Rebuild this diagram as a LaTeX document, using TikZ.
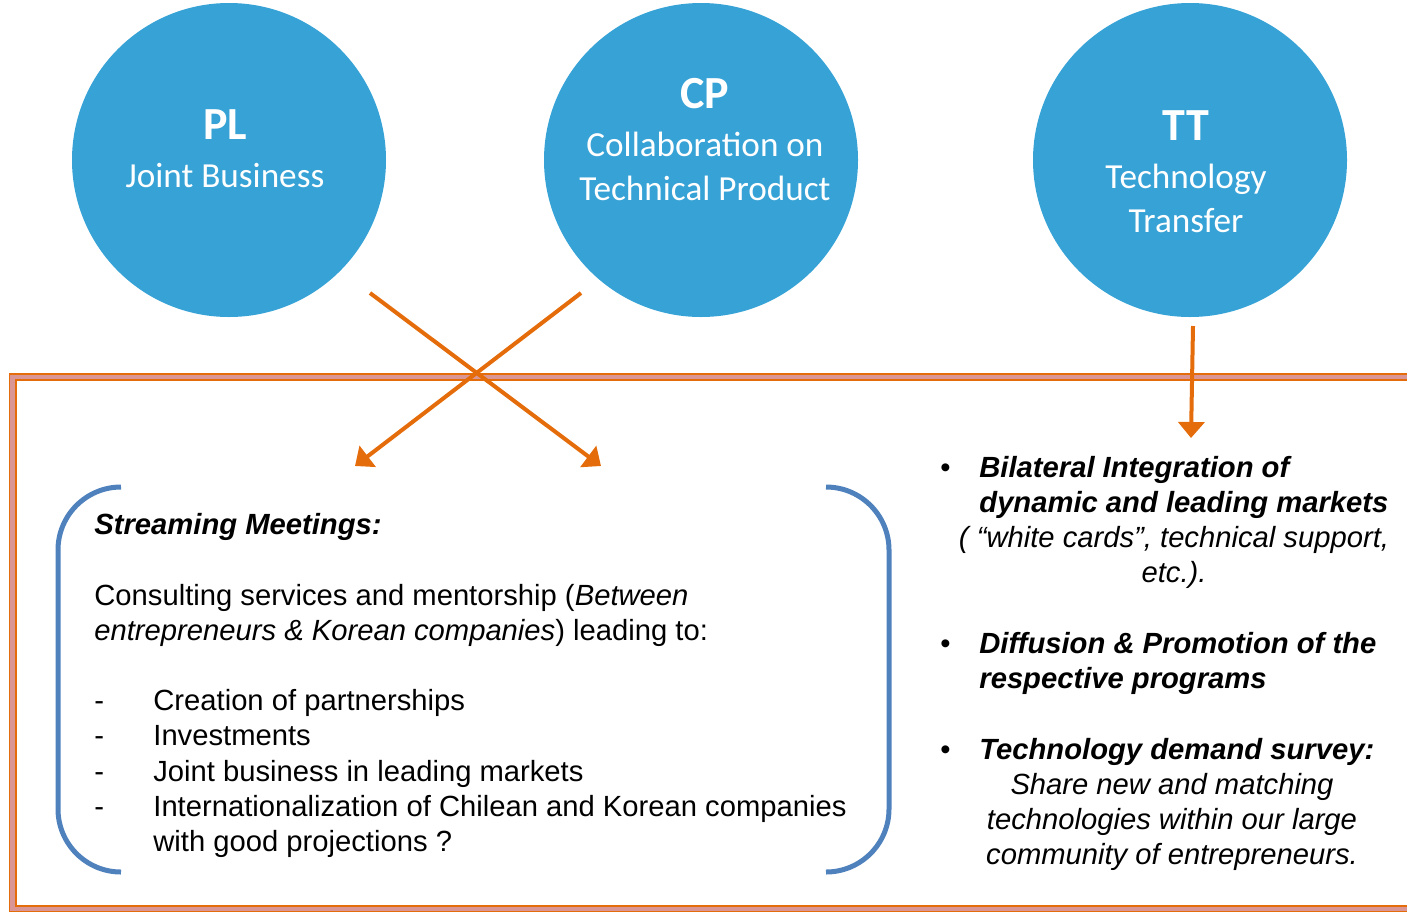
\documentclass[tikz,border=0pt]{standalone}
\usepackage{fontspec}
\setmainfont{Liberation Sans}
\newfontfamily\carlito{Carlito}
\usetikzlibrary{arrows.meta}
\definecolor{hubblue}{RGB}{54,162,214}
\definecolor{arroworange}{RGB}{228,108,10}
\definecolor{framepink}{RGB}{217,150,148}
\definecolor{braceblue}{RGB}{79,129,189}

\begin{document}
\begin{tikzpicture}[x=0.5pt, y=-0.5pt,
  hub/.style={circle, fill=hubblue, minimum size=157pt, inner sep=0pt},
  hubtext/.style={text=white, align=center, anchor=base, inner sep=0pt, font=\carlito\fontsize{17.6}{22}\selectfont},
  flow/.style={draw=arroworange, line width=2pt, -{Triangle[width=13pt,length=8pt]}},
  brace/.style={draw=braceblue, line width=2.5pt, rounded corners=31.5pt},
  body/.style={align=left, anchor=base west, inner sep=0pt, font=\fontsize{14.6}{17.6}\selectfont},
  note/.style={align=center, anchor=base, inner sep=0pt, font=\itshape\fontsize{14.6}{17.6}\selectfont}]
\useasboundingbox (0,0) rectangle (1407,911);

% frame
\draw[draw=arroworange, line width=0.9pt, double=framepink, double distance=2.2pt] (12.5,377) rectangle (1440,909);

% circles
\node[hub] (PL) at (229,160) {};
\node[hub] (CP) at (701,160) {};
\node[hub] (TT) at (1190,160) {};
\node[hubtext] (PLt) at (225,187) {{\fontsize{23}{26}\selectfont\bfseries PL}\\[2pt] Joint Business};
\node[hubtext] (CPt) at (705,200) {{\fontsize{23}{26}\selectfont\bfseries CP}\\[2pt] Collaboration on\\ Technical Product};
\node[hubtext] (TTt) at (1186,232) {{\fontsize{23}{26}\selectfont\bfseries TT}\\[2pt] Technology\\ Transfer};

% arrows
\coordinate (PLs) at (370,293);
\coordinate (CPs) at (581,293);
\coordinate (TTs) at (1193,326);
\coordinate (SMl) at (355,466);
\coordinate (SMr) at (601,466);
\coordinate (BIt) at (1191,438);
\draw[flow] (PLs) -- (SMr);
\draw[flow] (CPs) -- (SMl);
\draw[flow] (TTs) -- (BIt);

% brackets
\draw[brace] (121,487) -- (58,487) -- (58,872) -- (121,872);
\draw[brace] (826,487) -- (889,487) -- (889,872) -- (826,872);

% left block
\node[body] (SM) at (94,851.5) {\textbf{\textit{Streaming Meetings:}}\\[17.6pt]
Consulting services and mentorship (\textit{Between}\\
\textit{entrepreneurs \& Korean companies}) leading to:\\[17.6pt]
\makebox[29.5pt][l]{-}Creation of partnerships\\
\makebox[29.5pt][l]{-}Investments\\
\makebox[29.5pt][l]{-}Joint business in leading markets\\
\makebox[29.5pt][l]{-}Internationalization of Chilean and Korean companies\\
\hspace*{29.5pt}with good projections ?};

% right block
\node[body] (BI) at (940,512.5) {\makebox[19.5pt][l]{\textbullet}\textbf{\textit{Bilateral Integration of}}\\
\hspace*{19.5pt}\textbf{\textit{dynamic and leading markets}}};
\node[note] (BIn) at (1174,582.5) {( “white cards”, technical support,\\ etc.).};
\node[body] (DP) at (940,688.5) {\makebox[19.5pt][l]{\textbullet}\textbf{\textit{Diffusion \& Promotion of the}}\\
\hspace*{19.5pt}\textbf{\textit{respective programs}}};
\node[body] (TD) at (940,759) {\makebox[19.5pt][l]{\textbullet}\textbf{\textit{Technology demand survey:}}};
\node[note] (TDn) at (1172,864.5) {Share new and matching\\ technologies within our large\\ community of entrepreneurs.};
\end{tikzpicture}
\end{document}
